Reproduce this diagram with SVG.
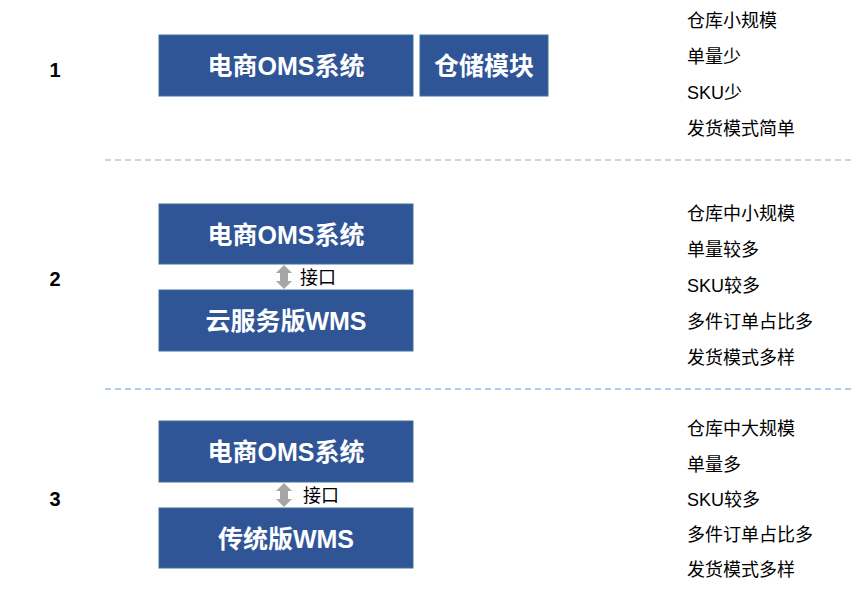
<svg xmlns="http://www.w3.org/2000/svg" width="860" height="590" viewBox="0 0 860 590">
<style>
.box{fill:#2F5597;stroke:#41719C;stroke-width:1}
.bt{font-family:"Liberation Sans","Noto Sans CJK SC",sans-serif;font-size:25px;font-weight:bold;fill:#fff;text-anchor:middle}
.num{font-family:"Liberation Sans","Noto Sans CJK SC",sans-serif;font-size:20px;font-weight:bold;fill:#000;text-anchor:middle}
.rt{font-family:"Liberation Sans","Noto Sans CJK SC",sans-serif;font-size:18px;fill:#000}
.lbl{font-family:"Liberation Sans","Noto Sans CJK SC",sans-serif;font-size:18px;fill:#000}
.arr{fill:#A6A6A6}
</style>
<rect width="860" height="590" fill="#fff"/>
<g id="dividers">
<line x1="105" y1="160" x2="852" y2="160" stroke="#A6A6A6" stroke-width="1" stroke-dasharray="6,4"/>
<line x1="105" y1="389" x2="852" y2="389" stroke="#5B9BD5" stroke-width="1" stroke-dasharray="6,4"/>
</g>
<g id="numbers">
<text class="num" x="55" y="77">1</text>
<text class="num" x="55" y="286">2</text>
<text class="num" x="55" y="506">3</text>
</g>
<g id="n1a"><rect class="box" x="159" y="35" width="254" height="61"/><text class="bt" x="286" y="75">电商OMS系统</text></g>
<g id="n1b"><rect class="box" x="420" y="35" width="128" height="61"/><text class="bt" x="484" y="75">仓储模块</text></g>
<g id="n2a"><rect class="box" x="159" y="204" width="254" height="60"/><text class="bt" x="286" y="244">电商OMS系统</text></g>
<g id="n2b"><rect class="box" x="159" y="290" width="254" height="61"/><text class="bt" x="286" y="330">云服务版WMS</text></g>
<g id="n3a"><rect class="box" x="159" y="421" width="254" height="61"/><text class="bt" x="286" y="461">电商OMS系统</text></g>
<g id="n3b"><rect class="box" x="159" y="508" width="254" height="60"/><text class="bt" x="286" y="548">传统版WMS</text></g>
<g id="connectors">
<polygon class="arr" points="284,265 292,273 288,273 288,281 292,281 284,289 276,281 280,281 280,273 276,273"/>
<polygon class="arr" points="284,483 292,491 288,491 288,499 292,499 284,507 276,499 280,499 280,491 276,491"/>
<text class="lbl" x="300" y="284">接口</text>
<text class="lbl" x="303" y="502">接口</text>
</g>
<g id="notes">
<text class="rt" x="687" y="27">仓库小规模</text>
<text class="rt" x="687" y="63">单量少</text>
<text class="rt" x="687" y="99">SKU少</text>
<text class="rt" x="687" y="135">发货模式简单</text>
<text class="rt" x="687" y="220">仓库中小规模</text>
<text class="rt" x="687" y="256">单量较多</text>
<text class="rt" x="687" y="292">SKU较多</text>
<text class="rt" x="687" y="328">多件订单占比多</text>
<text class="rt" x="687" y="364">发货模式多样</text>
<text class="rt" x="687" y="435">仓库中大规模</text>
<text class="rt" x="687" y="471">单量多</text>
<text class="rt" x="687" y="506">SKU较多</text>
<text class="rt" x="687" y="541">多件订单占比多</text>
<text class="rt" x="687" y="576">发货模式多样</text>
</g>
</svg>
